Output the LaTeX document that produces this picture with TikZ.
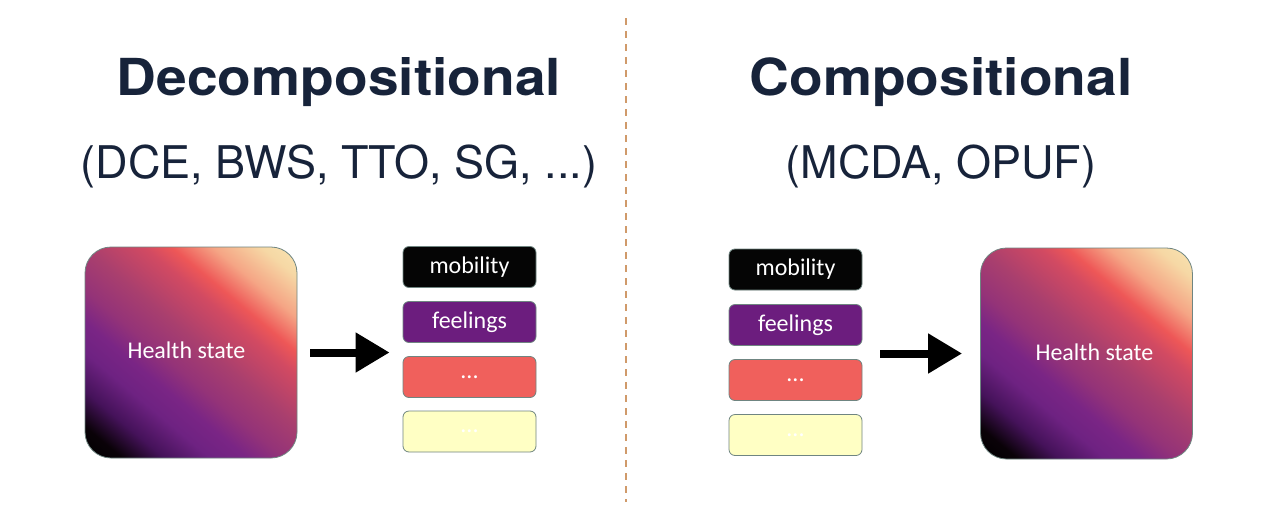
\documentclass[tikz,border=0pt]{standalone}
\usepackage{fontspec}
\setsansfont{TeX Gyre Heros}
\newfontfamily\titlefont[FakeStretch=1.08]{TeX Gyre Heros}
\newfontfamily\boxfont{Carlito}
\usetikzlibrary{arrows.meta}
\definecolor{navy}{HTML}{17233A}
\definecolor{dashc}{HTML}{D09A6A}
\definecolor{g1}{HTML}{0A0208}
\definecolor{g2}{HTML}{45125A}
\definecolor{g3}{HTML}{6E2282}
\definecolor{g4}{HTML}{7A2585}
\definecolor{g5}{HTML}{943378}
\definecolor{g6}{HTML}{A93F6E}
\definecolor{g7}{HTML}{D24A62}
\definecolor{g8}{HTML}{EE5757}
\definecolor{g9}{HTML}{F5A585}
\definecolor{g10}{HTML}{F6D8A5}
\definecolor{g11}{HTML}{F8E4B2}
\definecolor{mobc}{HTML}{050505}
\definecolor{feelc}{HTML}{6C1D7E}
\definecolor{redc}{HTML}{F0605C}
\definecolor{yelc}{HTML}{FFFFC4}
\definecolor{edgec}{HTML}{6F8581}
\pgfdeclarehorizontalshading{hsgrad}{100bp}{color(0bp)=(black); color(14.8bp)=(black); color(20.4bp)=(g1); color(26.8bp)=(g2); color(33.8bp)=(g3); color(39.4bp)=(g4); color(45.1bp)=(g5); color(52.8bp)=(g6); color(62bp)=(g7); color(66.2bp)=(g8); color(72.5bp)=(g9); color(79.9bp)=(g10); color(85.2bp)=(g11); color(100bp)=(g11)}
\tikzset{
  title/.style={font=\titlefont\bfseries\fontsize{51}{56}\selectfont, text=navy, anchor=base},
  subtitle/.style={font=\sffamily\fontsize{45}{52}\selectfont, text=navy, anchor=base},
  hsbox/.style={draw=edgec, line width=0.8pt, rounded corners=26pt, minimum width=212pt, minimum height=211pt, shading=hsgrad, shading angle=50, text=white, font=\boxfont\fontsize{24}{28}\selectfont},
  attr/.style={draw=edgec, line width=0.8pt, rounded corners=6pt, minimum width=133pt, minimum height=41pt, font=\boxfont\fontsize{24}{28}\selectfont},
  bigarrow/.style={line width=8pt, -{Triangle[length=34pt,width=38pt]}},
  divider/.style={draw=dashc, line width=2pt, dash pattern=on 7pt off 6pt},
}
\begin{document}
\begin{tikzpicture}[x=1pt,y=-1pt]
\useasboundingbox[fill=white] (0,0) rectangle (1280,509);
% divider
\coordinate (dtop) at (626,18);
\coordinate (dbot) at (626,502);
\draw[divider] (dtop) -- (dbot);
% titles
\node[title] (tL) at (339,95) {Decompositional};
\node[subtitle] (sL) at (339,178) {(DCE, BWS, TTO, SG, ...)};
\node[title] (tR) at (941,95) {Compositional};
\node[subtitle] (sR) at (941,178) {(MCDA, OPUF)};
% left side
\node[hsbox] (hsL) at (191,352.5) {\raisebox{4pt}{\hspace*{-9pt}Health state}};
\node[attr, fill=mobc, text=white] (mobL) at (469.5,267) {mobility};
\node[attr, fill=feelc, text=white] (feelL) at (469.5,322) {feelings};
\node[attr, fill=redc, text=white] (dotsL) at (469.5,377) {...};
\node[attr, fill=yelc, text=white] (ydotsL) at (469.5,431.5) {...};
\draw[bigarrow, shorten <=13pt, shorten >=13pt] (hsL.east) -- (hsL.east -| mobL.west);
% right side
\node[attr, fill=mobc, text=white] (mobR) at (795.5,269.5) {mobility};
\node[attr, fill=feelc, text=white] (feelR) at (795.5,325) {feelings};
\node[attr, fill=redc, text=white] (dotsR) at (795.5,380) {...};
\node[attr, fill=yelc, text=white] (ydotsR) at (795.5,435) {...};
\node[hsbox] (hsR) at (1086.5,353.5) {\raisebox{3pt}{Health state\hspace*{-16pt}}};
\draw[bigarrow, shorten <=18pt, shorten >=18pt] (hsR.west -| mobR.east) -- (hsR.west);
\end{tikzpicture}
\end{document}
